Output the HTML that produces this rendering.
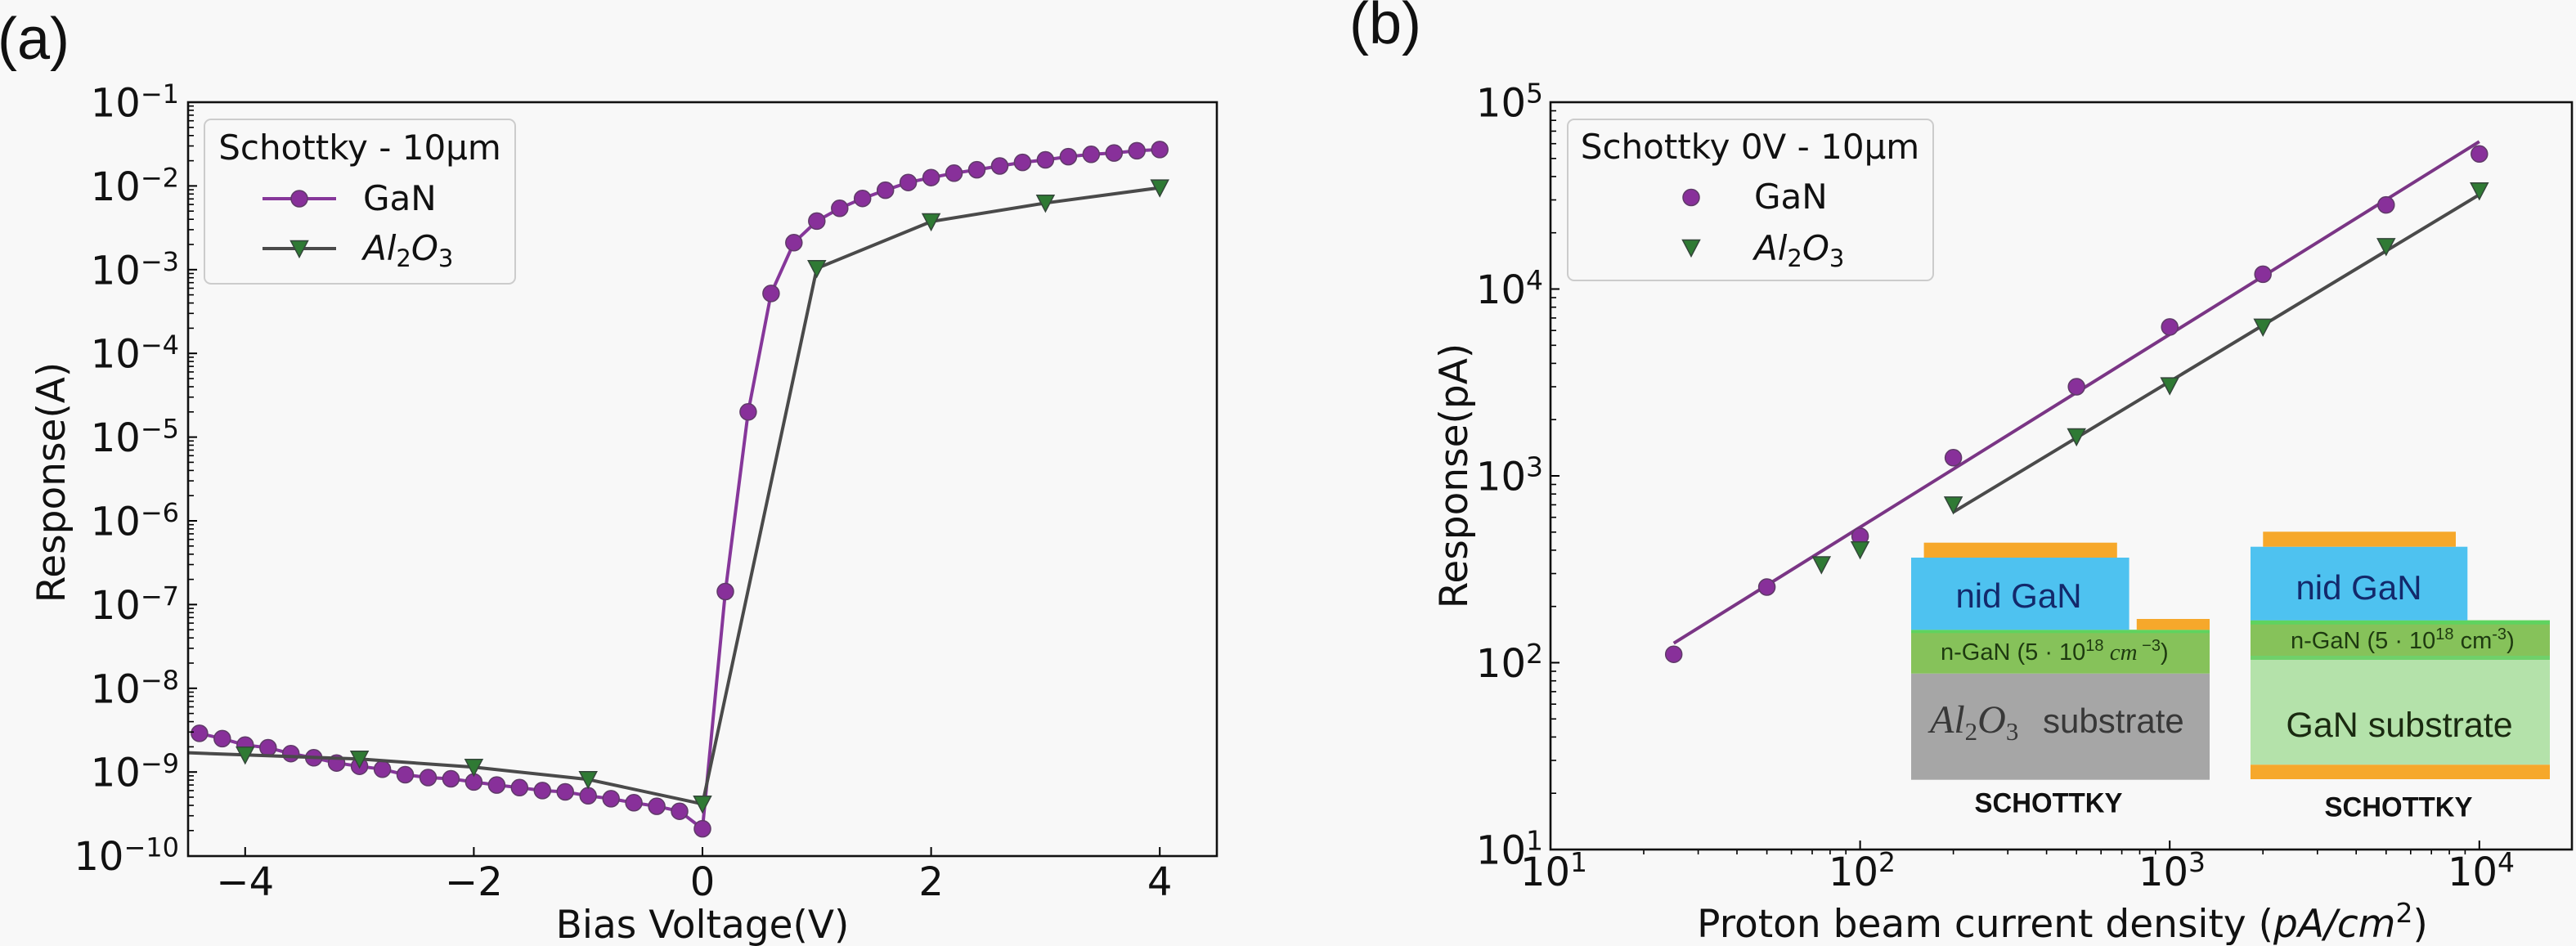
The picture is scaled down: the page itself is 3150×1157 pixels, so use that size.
<!DOCTYPE html>
<html><head><meta charset="utf-8">
<style>
html,body{margin:0;padding:0;background:#f8f8f8;}
svg{display:block;}
</style></head><body>
<svg width="3150" height="1157" viewBox="0 0 3150 1157" xmlns="http://www.w3.org/2000/svg" font-family="'DejaVu Sans', 'Liberation Sans', sans-serif">
<rect width="3150" height="1157" fill="#f8f8f8"/>
<defs>
<clipPath id="ca"><rect x="230" y="125" width="1258" height="922"/></clipPath>
<clipPath id="cb"><rect x="1896" y="125" width="1249" height="914"/></clipPath>
<circle id="c" r="10" fill="#88309a" stroke="#5f3a68" stroke-width="1.5"/>
<path id="t" d="M-10.5,-9.5 L10.5,-9.5 L0,10.5 Z" fill="#2f7a34" stroke="#34463a" stroke-width="1.5"/>
<g id="mya" stroke="#000" stroke-width="1.6">
<line x1="230" x2="237" y1="-30.8" y2="-30.8"/><line x1="230" x2="237" y1="-48.9" y2="-48.9"/>
<line x1="230" x2="237" y1="-61.6" y2="-61.6"/><line x1="230" x2="237" y1="-71.6" y2="-71.6"/>
<line x1="230" x2="237" y1="-79.7" y2="-79.7"/><line x1="230" x2="237" y1="-86.5" y2="-86.5"/>
<line x1="230" x2="237" y1="-92.5" y2="-92.5"/><line x1="230" x2="237" y1="-97.7" y2="-97.7"/>
</g>
<g id="myb" stroke="#000" stroke-width="1.6">
<line x1="1896" x2="1903" y1="-68.8" y2="-68.8"/><line x1="1896" x2="1903" y1="-109" y2="-109"/>
<line x1="1896" x2="1903" y1="-137.6" y2="-137.6"/><line x1="1896" x2="1903" y1="-159.7" y2="-159.7"/>
<line x1="1896" x2="1903" y1="-177.8" y2="-177.8"/><line x1="1896" x2="1903" y1="-193.1" y2="-193.1"/>
<line x1="1896" x2="1903" y1="-206.3" y2="-206.3"/><line x1="1896" x2="1903" y1="-218" y2="-218"/>
</g>
<g id="mxb" stroke="#000" stroke-width="1.6">
<line y1="1039" y2="1045" x1="114" x2="114"/><line y1="1039" y2="1045" x1="180.6" x2="180.6"/>
<line y1="1039" y2="1045" x1="228" x2="228"/><line y1="1039" y2="1045" x1="264.6" x2="264.6"/>
<line y1="1039" y2="1045" x1="294.6" x2="294.6"/><line y1="1039" y2="1045" x1="320" x2="320"/>
<line y1="1039" y2="1045" x1="341.9" x2="341.9"/><line y1="1039" y2="1045" x1="361.2" x2="361.2"/>
</g>
</defs>

<!-- ================= PANEL (a) ================= -->
<text x="-3" y="72" font-family="'Liberation Sans', sans-serif" font-size="72" fill="#111">(a)</text>

<g clip-path="url(#ca)">
<polyline fill="none" stroke="#86379a" stroke-width="4" stroke-linejoin="round" points="243.9,896.9 271.8,903.4 299.8,911.2 327.8,914.5 355.7,921.7 383.7,926.8 411.6,933.2 439.6,937.2 467.6,940.8 495.5,947.5 523.5,951.0 551.4,952.5 579.4,956.4 607.4,960.1 635.3,963.3 663.3,966.9 691.2,968.5 719.2,973.3 747.2,976.9 775.1,981.8 803.1,986.1 831.0,992.2 859,1013.6 887.0,723.5 914.9,503.8 942.9,358.9 970.8,296.8 998.8,270.4 1026.8,254.8 1054.7,242.7 1082.7,232.6 1110.6,223.2 1138.6,217.2 1166.6,211.8 1194.5,207.6 1222.5,203.0 1250.4,198.6 1278.4,195.5 1306.4,191.6 1334.3,188.8 1362.3,187.1 1390.2,184.4 1418.2,182.9"/>
<g>
<use href="#c" x="243.9" y="896.9"/><use href="#c" x="271.8" y="903.4"/><use href="#c" x="299.8" y="911.2"/><use href="#c" x="327.8" y="914.5"/><use href="#c" x="355.7" y="921.7"/><use href="#c" x="383.7" y="926.8"/><use href="#c" x="411.6" y="933.2"/><use href="#c" x="439.6" y="937.2"/><use href="#c" x="467.6" y="940.8"/><use href="#c" x="495.5" y="947.5"/><use href="#c" x="523.5" y="951.0"/><use href="#c" x="551.4" y="952.5"/><use href="#c" x="579.4" y="956.4"/><use href="#c" x="607.4" y="960.1"/><use href="#c" x="635.3" y="963.3"/><use href="#c" x="663.3" y="966.9"/><use href="#c" x="691.2" y="968.5"/><use href="#c" x="719.2" y="973.3"/><use href="#c" x="747.2" y="976.9"/><use href="#c" x="775.1" y="981.8"/><use href="#c" x="803.1" y="986.1"/><use href="#c" x="831.0" y="992.2"/><use href="#c" x="859" y="1013.6"/><use href="#c" x="887.0" y="723.5"/><use href="#c" x="914.9" y="503.8"/><use href="#c" x="942.9" y="358.9"/><use href="#c" x="970.8" y="296.8"/><use href="#c" x="998.8" y="270.4"/><use href="#c" x="1026.8" y="254.8"/><use href="#c" x="1054.7" y="242.7"/><use href="#c" x="1082.7" y="232.6"/><use href="#c" x="1110.6" y="223.2"/><use href="#c" x="1138.6" y="217.2"/><use href="#c" x="1166.6" y="211.8"/><use href="#c" x="1194.5" y="207.6"/><use href="#c" x="1222.5" y="203.0"/><use href="#c" x="1250.4" y="198.6"/><use href="#c" x="1278.4" y="195.5"/><use href="#c" x="1306.4" y="191.6"/><use href="#c" x="1334.3" y="188.8"/><use href="#c" x="1362.3" y="187.1"/><use href="#c" x="1390.2" y="184.4"/><use href="#c" x="1418.2" y="182.9"/>
</g>
<polyline fill="none" stroke="#4a4a4a" stroke-width="4" stroke-linejoin="round" points="220,920.3 299.8,923.3 439.6,928.3 579.4,938.3 719.2,953.3 859,983.3 998.8,328.3 1138.6,271 1278.4,248.3 1418.2,229.6"/>
<g>
<use href="#t" x="299.8" y="923.3"/><use href="#t" x="439.6" y="928.3"/><use href="#t" x="579.4" y="938.3"/><use href="#t" x="719.2" y="953.3"/><use href="#t" x="859" y="983.3"/><use href="#t" x="998.8" y="328.3"/><use href="#t" x="1138.6" y="271"/><use href="#t" x="1278.4" y="248.3"/><use href="#t" x="1418.2" y="229.6"/>
</g>
</g>

<!-- ticks (a) -->
<g stroke="#000" stroke-width="2">
<line x1="230" x2="241" y1="227.4" y2="227.4"/><line x1="230" x2="241" y1="329.8" y2="329.8"/>
<line x1="230" x2="241" y1="432.2" y2="432.2"/><line x1="230" x2="241" y1="534.6" y2="534.6"/>
<line x1="230" x2="241" y1="637" y2="637"/><line x1="230" x2="241" y1="739.4" y2="739.4"/>
<line x1="230" x2="241" y1="841.8" y2="841.8"/><line x1="230" x2="241" y1="944.2" y2="944.2"/>
<line x1="299.8" x2="299.8" y1="1047" y2="1036"/><line x1="579.4" x2="579.4" y1="1047" y2="1036"/>
<line x1="859" x2="859" y1="1047" y2="1036"/><line x1="1138.6" x2="1138.6" y1="1047" y2="1036"/>
<line x1="1418.2" x2="1418.2" y1="1047" y2="1036"/>
</g>
<use href="#mya" y="227.4"/><use href="#mya" y="329.8"/><use href="#mya" y="432.2"/><use href="#mya" y="534.6"/><use href="#mya" y="637"/><use href="#mya" y="739.4"/><use href="#mya" y="841.8"/><use href="#mya" y="944.2"/><use href="#mya" y="1046.6"/>

<rect x="230" y="125" width="1258" height="922" fill="none" stroke="#111" stroke-width="2.6"/>

<!-- y tick labels (a) -->
<g font-size="48" fill="#111" text-anchor="end">
<text x="219" y="142.5">10<tspan font-size="32" dy="-16.5">−1</tspan></text>
<text x="219" y="244.9">10<tspan font-size="32" dy="-16.5">−2</tspan></text>
<text x="219" y="347.3">10<tspan font-size="32" dy="-16.5">−3</tspan></text>
<text x="219" y="449.7">10<tspan font-size="32" dy="-16.5">−4</tspan></text>
<text x="219" y="552.1">10<tspan font-size="32" dy="-16.5">−5</tspan></text>
<text x="219" y="654.5">10<tspan font-size="32" dy="-16.5">−6</tspan></text>
<text x="219" y="756.9">10<tspan font-size="32" dy="-16.5">−7</tspan></text>
<text x="219" y="859.3">10<tspan font-size="32" dy="-16.5">−8</tspan></text>
<text x="219" y="961.7">10<tspan font-size="32" dy="-16.5">−9</tspan></text>
<text x="219" y="1064.1">10<tspan font-size="32" dy="-16.5">−10</tspan></text>
</g>
<!-- x tick labels (a) -->
<g font-size="48" fill="#111" text-anchor="middle">
<text x="299.8" y="1095">−4</text>
<text x="579.4" y="1095">−2</text>
<text x="859" y="1095">0</text>
<text x="1138.6" y="1095">2</text>
<text x="1418.2" y="1095">4</text>
</g>
<text x="859" y="1147" font-size="47" text-anchor="middle" fill="#111">Bias Voltage(V)</text>
<text transform="translate(79,590) rotate(-90)" font-size="47" text-anchor="middle" fill="#111">Response(A)</text>

<!-- legend (a) -->
<rect x="250" y="146" width="380" height="201" rx="8" ry="8" fill="#f8f8f8" stroke="#cccccc" stroke-width="2"/>
<text x="440" y="195" font-size="42" text-anchor="middle" fill="#111">Schottky - 10μm</text>
<line x1="321" y1="243" x2="411" y2="243" stroke="#86379a" stroke-width="4"/>
<use href="#c" x="366" y="243"/>
<text x="444" y="257" font-size="42" fill="#111">GaN</text>
<line x1="321" y1="304" x2="411" y2="304" stroke="#4a4a4a" stroke-width="4"/>
<use href="#t" x="366" y="304"/>
<text x="444" y="318" font-size="42" fill="#111"><tspan font-style="italic">Al</tspan><tspan font-size="29" dy="8">2</tspan><tspan font-style="italic" dy="-8">O</tspan><tspan font-size="29" dy="8">3</tspan></text>

<!-- ================= PANEL (b) ================= -->
<text x="1650" y="53" font-family="'Liberation Sans', sans-serif" font-size="72" fill="#111">(b)</text>

<!-- insets -->
<g>
<!-- left inset (Al2O3) -->
<rect x="2337" y="823.7" width="365" height="130" fill="#a6a6a6"/>
<rect x="2337" y="770.3" width="365" height="53.4" fill="#86c25a"/>
<rect x="2337" y="770.3" width="365" height="4" fill="#5fd35f"/>
<rect x="2337" y="682" width="266.6" height="88.3" fill="#4ec2f0"/>
<rect x="2352.6" y="663.7" width="236.2" height="18.3" fill="#f6a82b"/>
<rect x="2612.8" y="757" width="89.2" height="13.3" fill="#f6a82b"/>
<text x="2468.5" y="743" font-family="'Liberation Sans', sans-serif" font-size="42" text-anchor="middle" fill="#13296b">nid GaN</text>
<text x="2373" y="807" font-family="'Liberation Sans', sans-serif" font-size="29" fill="#1e3a10">n-GaN (5 · 10<tspan font-size="20" dy="-11">18</tspan><tspan dy="11" font-family="'Liberation Serif', serif" font-style="italic"> cm</tspan><tspan font-size="20" dy="-11">  −3</tspan><tspan dy="11">)</tspan></text>
<text x="2360" y="896" font-family="'Liberation Serif', serif" font-size="48" font-style="italic" fill="#383838">Al<tspan font-size="31" dy="9" font-style="normal">2</tspan><tspan dy="-9">O</tspan><tspan font-size="31" dy="9" font-style="normal">3</tspan></text>
<text x="2498" y="896" font-family="'Liberation Sans', sans-serif" font-size="42" fill="#383838">substrate</text>
<text x="2505" y="993.7" font-family="'Liberation Sans', sans-serif" font-size="34" font-weight="bold" text-anchor="middle" textLength="181" lengthAdjust="spacingAndGlyphs" fill="#111">SCHOTTKY</text>

<!-- right inset (GaN substrate) -->
<rect x="2752" y="807" width="366" height="128.3" fill="#b4e2aa"/>
<rect x="2752" y="935.3" width="366" height="17.7" fill="#f6a82b"/>
<rect x="2752" y="758.7" width="366" height="48.3" fill="#86c25a"/>
<rect x="2752" y="758.7" width="366" height="5" fill="#5fd35f"/>
<rect x="2752" y="802" width="366" height="5" fill="#6fd06a"/>
<rect x="2752" y="668.7" width="265.3" height="90" fill="#4ec2f0"/>
<rect x="2767.3" y="650.3" width="235.7" height="18.4" fill="#f6a82b"/>
<text x="2884.5" y="733" font-family="'Liberation Sans', sans-serif" font-size="42" text-anchor="middle" fill="#13296b">nid GaN</text>
<text x="2801" y="793" font-family="'Liberation Sans', sans-serif" font-size="29" fill="#1e3a10">n-GaN (5 · 10<tspan font-size="20" dy="-11">18</tspan><tspan dy="11"> cm</tspan><tspan font-size="20" dy="-11">-3</tspan><tspan dy="11">)</tspan></text>
<text x="2934" y="901" font-family="'Liberation Sans', sans-serif" font-size="43" text-anchor="middle" fill="#1a2a10">GaN substrate</text>
<text x="2933" y="998.7" font-family="'Liberation Sans', sans-serif" font-size="34" font-weight="bold" text-anchor="middle" textLength="181" lengthAdjust="spacingAndGlyphs" fill="#111">SCHOTTKY</text>
</g>

<g clip-path="url(#cb)">
<line x1="2046.7" y1="786.7" x2="3031.8" y2="173.2" stroke="#7a3585" stroke-width="4"/>
<line x1="2388.6" y1="626.3" x2="3031.8" y2="238.1" stroke="#4a4a4a" stroke-width="4"/>
<use href="#c" x="2046.7" y="800.2"/><use href="#c" x="2160.6" y="718"/><use href="#c" x="2274.6" y="655.9"/><use href="#c" x="2388.6" y="559.8"/><use href="#c" x="2539.2" y="473"/><use href="#c" x="2653.2" y="399.9"/><use href="#c" x="2767.2" y="335.4"/><use href="#c" x="2917.8" y="250.6"/><use href="#c" x="3031.8" y="188.3"/>
<use href="#t" x="2227.3" y="690.5"/><use href="#t" x="2274.6" y="672.3"/><use href="#t" x="2388.6" y="617.4"/><use href="#t" x="2539.2" y="534"/><use href="#t" x="2653.2" y="471.6"/><use href="#t" x="2767.2" y="399.9"/><use href="#t" x="2917.8" y="301.4"/><use href="#t" x="3031.8" y="233.3"/>
</g>

<!-- ticks (b) -->
<g stroke="#000" stroke-width="2">
<line x1="1896" x2="1907" y1="353.5" y2="353.5"/><line x1="1896" x2="1907" y1="582" y2="582"/>
<line x1="1896" x2="1907" y1="810.5" y2="810.5"/>
<line x1="2274.6" x2="2274.6" y1="1039" y2="1028"/><line x1="2653.2" x2="2653.2" y1="1039" y2="1028"/>
<line x1="3031.8" x2="3031.8" y1="1039" y2="1028"/>
</g>
<use href="#myb" y="353.5"/><use href="#myb" y="582"/><use href="#myb" y="810.5"/><use href="#myb" y="1039"/>
<use href="#mxb" x="1896"/><use href="#mxb" x="2274.6"/><use href="#mxb" x="2653.2"/>

<rect x="1896" y="125" width="1249" height="914" fill="none" stroke="#111" stroke-width="2.6"/>

<!-- y tick labels (b) -->
<g font-size="48" fill="#111" text-anchor="end">
<text x="1887" y="142.5">10<tspan font-size="33" dy="-17">5</tspan></text>
<text x="1887" y="371">10<tspan font-size="33" dy="-17">4</tspan></text>
<text x="1887" y="599.5">10<tspan font-size="33" dy="-17">3</tspan></text>
<text x="1887" y="828">10<tspan font-size="33" dy="-17">2</tspan></text>
<text x="1887" y="1056.5">10<tspan font-size="33" dy="-17">1</tspan></text>
</g>
<!-- x tick labels (b) -->
<g font-size="48" fill="#111" text-anchor="middle">
<text x="1900" y="1083">10<tspan font-size="33" dy="-17">1</tspan></text>
<text x="2277" y="1083">10<tspan font-size="33" dy="-17">2</tspan></text>
<text x="2656" y="1083">10<tspan font-size="33" dy="-17">3</tspan></text>
<text x="3034" y="1083">10<tspan font-size="33" dy="-17">4</tspan></text>
</g>
<text x="2522" y="1146" font-size="47" text-anchor="middle" fill="#111">Proton beam current density (<tspan font-style="italic">pA/cm</tspan><tspan font-size="33" dy="-18">2</tspan><tspan dy="18">)</tspan></text>
<text transform="translate(1794,582) rotate(-90)" font-size="47" text-anchor="middle" fill="#111">Response(pA)</text>

<!-- legend (b) -->
<rect x="1917" y="146" width="447" height="197" rx="8" ry="8" fill="#f8f8f8" stroke="#cccccc" stroke-width="2"/>
<text x="2140" y="194" font-size="42" text-anchor="middle" fill="#111">Schottky 0V - 10μm</text>
<use href="#c" x="2068" y="241.5"/>
<text x="2145" y="255" font-size="42" fill="#111">GaN</text>
<use href="#t" x="2068" y="303"/>
<text x="2145" y="318" font-size="42" fill="#111"><tspan font-style="italic">Al</tspan><tspan font-size="29" dy="8">2</tspan><tspan font-style="italic" dy="-8">O</tspan><tspan font-size="29" dy="8">3</tspan></text>

</svg>
</body></html>
